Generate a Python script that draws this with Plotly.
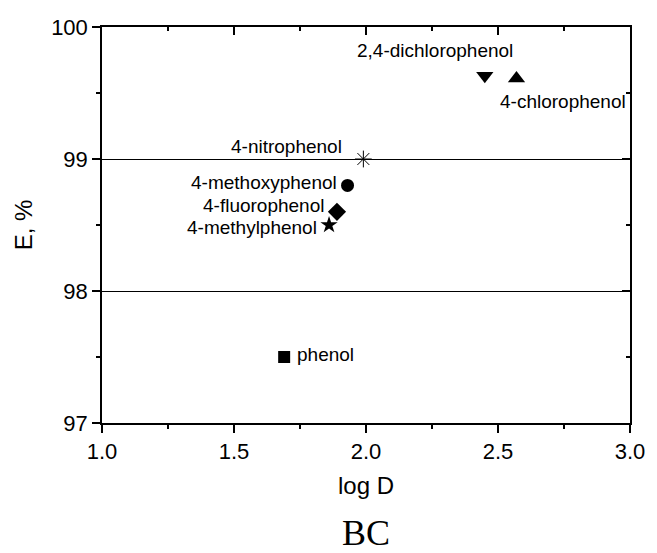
import plotly.graph_objects as go

names = ["phenol", "4-methylphenol", "4-fluorophenol", "4-methoxyphenol",
         "4-nitrophenol", "2,4-dichlorophenol", "4-chlorophenol"]
log_d = [1.69, 1.86, 1.89, 1.93, 1.99, 2.45, 2.57]
e_pct = [97.5, 98.5, 98.6, 98.8, 99.0, 99.63, 99.61]
symbols = ["square", "star", "diamond", "circle", "asterisk-open",
           "triangle-down", "triangle-up"]
sizes = [12, 13, 14, 13, 14, 15, 15]
# label placement (anchor, x shift px, y shift px)
label_pos = [("left", 11, 3), ("right", -10, -2), ("right", -11, 6), ("right", -9, 3),
             ("right", -19, 13), ("right", 30, 25), ("left", -18, -23)]

x_ticks = [1.0, 1.5, 2.0, 2.5, 3.0]
y_ticks = [97, 98, 99, 100]

FONT = "Liberation Sans, Arial, sans-serif"

fig = go.Figure()
for i in range(len(names)):
    sym = symbols[i]
    marker = dict(symbol=sym, size=sizes[i], color="black")
    if sym == "asterisk-open":
        marker["line"] = dict(color="black", width=1)
    fig.add_trace(go.Scatter(x=[log_d[i]], y=[e_pct[i]], mode="markers",
                             marker=marker, showlegend=False, hoverinfo="skip"))

for i, name in enumerate(names):
    anc, xs, ys = label_pos[i]
    fig.add_annotation(x=log_d[i], y=e_pct[i], text=name, showarrow=False,
                       xanchor=anc, yanchor="middle", xshift=xs, yshift=ys,
                       font=dict(family=FONT, size=19, color="black"))

fig.add_annotation(x=0.5, y=0, xref="paper", yref="paper", yanchor="middle",
                   yshift=-110, text="BC", showarrow=False,
                   font=dict(family="Liberation Serif, Times New Roman, serif",
                             size=36, color="black"))

axis_common = dict(showline=True, linecolor="black", linewidth=1.5,
                   tickcolor="black", tickwidth=1.5, zeroline=False)

fig.update_layout(
    width=657, height=553,
    margin=dict(l=102, r=20, t=27, b=130),
    paper_bgcolor="white", plot_bgcolor="white",
    font=dict(family=FONT, color="black"),
    xaxis=dict(range=[1.0, 3.0], tickvals=x_ticks,
               ticktext=[f"{v:.1f}" for v in x_ticks],
               ticks="outside", ticklen=8, showgrid=False,
               minor=dict(ticks="outside", ticklen=4, dtick=0.25,
                          tickcolor="black", tickwidth=1.5, showgrid=False),
               tickfont=dict(size=22), title=dict(text="log D", font=dict(size=24),
                                                   standoff=14),
               **axis_common),
    yaxis=dict(range=[97, 100], tickvals=y_ticks,
               ticks="outside", ticklen=8, showgrid=True,
               gridcolor="black", gridwidth=1,
               minor=dict(ticks="outside", ticklen=4, dtick=0.5,
                          tickcolor="black", tickwidth=1.5, showgrid=False),
               tickfont=dict(size=22), title=dict(text="E, %", font=dict(size=24),
                                                   standoff=12),
               **axis_common),
    xaxis2=dict(range=[1.0, 3.0], overlaying="x", side="top", matches="x",
                tickvals=x_ticks, showticklabels=False, ticks="inside",
                ticklen=8, showgrid=False,
                minor=dict(ticks="inside", ticklen=4, dtick=0.25,
                           tickcolor="black", tickwidth=1.5),
                **axis_common),
    yaxis2=dict(range=[97, 100], overlaying="y", side="right", matches="y",
                tickvals=y_ticks, showticklabels=False, ticks="inside",
                ticklen=8, showgrid=False,
                minor=dict(ticks="inside", ticklen=4, dtick=0.5,
                           tickcolor="black", tickwidth=1.5),
                **axis_common),
)
fig.add_trace(go.Scatter(x=[], y=[], xaxis="x2", yaxis="y2", showlegend=False,
                         hoverinfo="skip"))

fig.write_html("out.html")
